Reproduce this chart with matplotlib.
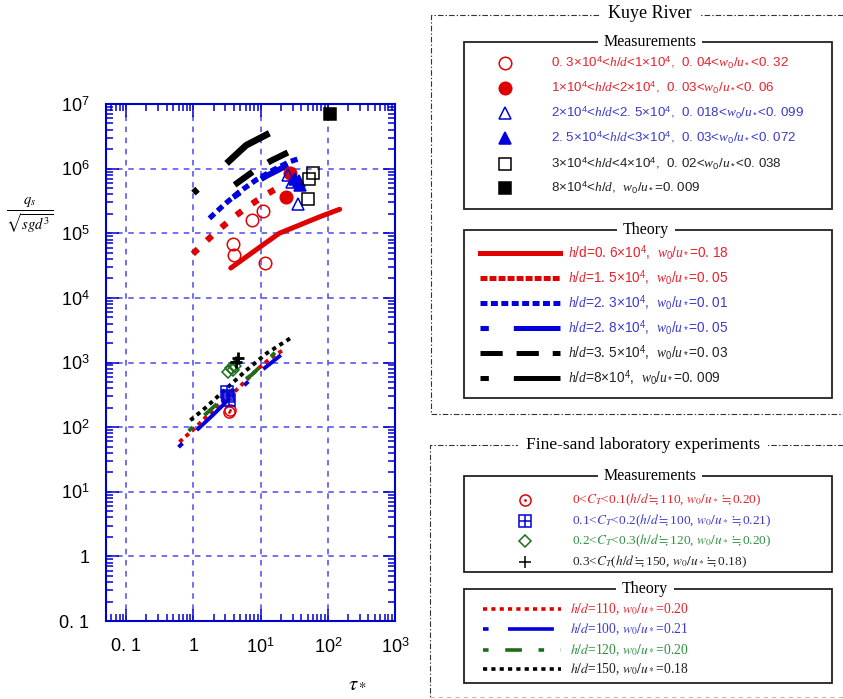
import numpy as np
import matplotlib
matplotlib.use('Agg')
import matplotlib.pyplot as plt
from matplotlib.ticker import LogLocator, FixedLocator, FixedFormatter, NullFormatter
from matplotlib.patches import Rectangle

plt.rcParams['font.family'] = ['Liberation Sans', 'DejaVu Sans']
plt.rcParams['mathtext.fontset'] = 'custom'
plt.rcParams['mathtext.rm'] = 'Liberation Sans'
plt.rcParams['mathtext.it'] = 'Liberation Serif:italic'
plt.rcParams['lines.scale_dashes'] = False

# ---- Kuye River measurements (tau*, qs/sqrt(sgd^3))
ko_x = [10.8, 7.5, 3.9, 4.0, 11.5]
ko_y = [2.2e5, 1.6e5, 6.7e4, 4.6e4, 3.5e4]
kfo_x = [27, 24]
kfo_y = [8.5e5, 3.6e5]
kt_x = [25.6, 29.7, 35.7]
kt_y = [8.0e5, 6.1e5, 2.8e5]
kft_x = [33, 37, 39]
kft_y = [7.0e5, 6.4e5, 5.5e5]
ks_x = [60, 53, 51]
ks_y = [8.5e5, 6.8e5, 3.4e5]
kfs_x = [107]
kfs_y = [7.0e6]

# ---- Kuye River theory curves
t06_x = [3.6, 6.1, 10.8, 19, 38, 76, 150]
t06_y = [2.9e4, 4.3e4, 6.6e4, 1.0e5, 1.34e5, 1.8e5, 2.35e5]
t15_x = [0.98, 1.94, 3.86, 6.85, 12.2, 22.8]
t15_y = [4.8e4, 9.4e4, 1.74e5, 2.7e5, 4.0e5, 5.8e5]
t23_x = [1.73, 2.9, 4.86, 8.6, 15.3, 27, 36]
t23_y = [1.7e5, 2.8e5, 4.4e5, 6.7e5, 9.5e5, 1.28e6, 1.41e6]
t28_x = [3.9, 6.85, 12.2, 25.6]
t28_y = [3.6e5, 5.4e5, 7.7e5, 1.14e6]
t35_x = [4.1, 7.7, 14.4, 27]
t35_y = [5.6e5, 9.0e5, 1.33e6, 1.83e6]
t80_x = [1.0, 3.1, 6.1, 14]
t80_y = [4.2e5, 1.2e6, 2.3e6, 3.6e6]

# ---- fine-sand lab measurements
lc_x = [3.4, 3.45]
lc_y = [170, 185]
lsq_x = [3.15, 3.25, 3.4]
lsq_y = [345, 300, 265]
ld_x = [3.25, 3.66, 4.1, 3.86]
ld_y = [718, 811, 880, 762]
lp_x = [4.58, 4.34]
lp_y = [1160, 1025]

# ---- fine-sand lab theory
l110_x = [0.62, 0.98, 1.38, 2.44, 4.34, 8.6, 11.5, 16.1, 21.5]
l110_y = [59, 90, 128, 233, 374, 755, 980, 1290, 1550]
l100_x = [0.60, 1.9, 3.5, 7.7, 20]
l100_y = [49, 150, 280, 590, 1300]
l120_x = [0.85, 1.38, 4.86, 7.3, 17, 24]
l120_y = [87, 145, 475, 640, 1470, 1750]
l150_x = [0.90, 1.38, 2.59, 6.1, 12.2, 30]
l150_y = [128, 183, 333, 755, 1380, 2500]

xticks = [0.1, 1, 10, 100, 1000]
xlabels = ['0. 1', '1', '$10^1$', '$10^2$', '$10^3$']
yticks = [0.1, 1, 10, 1e2, 1e3, 1e4, 1e5, 1e6, 1e7]
ylabels = ['0. 1', '1', '$10^1$', '$10^2$', '$10^3$', '$10^4$', '$10^5$', '$10^6$', '$10^7$']

RED = '#e00000'
BLUE = '#0000dd'
GREEN = '#1a6e1a'
TRED = '#e8202a'
TBLUE = '#3a3ad0'
TGREEN = '#2e9040'

# styles
kuye_meas = [
    ('o', 'none', RED, TRED, '0. 3×10$^4$<$h/d$<1×10$^4$,  0. 04<$w_0/u_*$<0. 32'),
    ('o', RED, RED, TRED, '1×10$^4$<$h/d$<2×10$^4$,  0. 03<$w_0/u_*$<0. 06'),
    ('^', 'none', BLUE, TBLUE, '2×10$^4$<$h/d$<2. 5×10$^4$,  0. 018<$w_0/u_*$<0. 099'),
    ('^', BLUE, BLUE, TBLUE, '2. 5×10$^4$<$h/d$<3×10$^4$,  0. 03<$w_0/u_*$<0. 072'),
    ('s', 'none', 'k', '#222222', '3×10$^4$<$h/d$<4×10$^4$,  0. 02<$w_0/u_*$<0. 038'),
    ('s', 'k', 'k', '#222222', '8×10$^4$<$h/d$,  $w_0/u_*$=0. 009'),
]
kuye_theo = [
    (RED, 3.6, None, (0, 0), TRED, '$h/$d=0. 6×10$^4$,  $w_0/u_*$=0. 18'),
    (RED, 4.5, (5, 9), (5, 1.5), TRED, '$h/d$=1. 5×10$^4$,  $w_0/u_*$=0. 05'),
    (BLUE, 3.8, (5, 3), (5, 2.5), TBLUE, '$h/d$=2. 3×10$^4$,  $w_0/u_*$=0. 01'),
    (BLUE, 4.2, (6, 18, 34, 18), (6, 18, 34, 18), TBLUE, '$h/d$=2. 8×10$^4$,  $w_0/u_*$=0. 05'),
    ('k', 4.5, (16, 13), (16, 10), '#222222', '$h/d$=3. 5×10$^4$,  $w_0/u_*$=0. 03'),
    ('k', 4.8, (4, 28, 38, 28), (6, 18, 34, 18), '#222222', '$h/d$=8×10$^4$,  $w_0/u_*$=0. 009'),
]
lab_meas = [
    (RED, TRED, r'0<$C_T$<0.1($h/d\fallingdotseq$110, $w_0/u_*\fallingdotseq$0.20)'),
    (BLUE, TBLUE, r'0.1<$C_T$<0.2($h/d\fallingdotseq$100, $w_0/u_*\fallingdotseq$0.21)'),
    (GREEN, TGREEN, r'0.2<$C_T$<0.3($h/d\fallingdotseq$120, $w_0/u_*\fallingdotseq$0.20)'),
    ('k', '#222222', r'0.3<$C_T$($h/d\fallingdotseq$150, $w_0/u_*\fallingdotseq$0.18)'),
]
lab_theo = [
    (RED, (3, 3), TRED, '$h/d$=110, $w_0/u_*$=0.20'),
    (BLUE, (4, 14, 33, 14), TBLUE, '$h/d$=100, $w_0/u_*$=0.21'),
    (GREEN, (4, 12, 12, 12), TGREEN, '$h/d$=120, $w_0/u_*$=0.20'),
    ('k', (3, 3), '#222222', '$h/d$=150, $w_0/u_*$=0.18'),
]

fig = plt.figure(figsize=(8.43, 6.99), dpi=100)
ax = fig.add_axes([106 / 843, 1 - 621 / 699, 289 / 843, 517 / 699])
ax.set_xscale('log')
ax.set_yscale('log')
ax.set_xlim(0.05, 1000)
ax.set_ylim(0.1, 1e7)

# theory curves (Kuye)
curves = [(t06_x, t06_y), (t15_x, t15_y), (t23_x, t23_y), (t28_x, t28_y), (t35_x, t35_y), (t80_x, t80_y)]
for (cx, cy), (col, lw, dsh, _, _, _) in zip(curves, kuye_theo):
    if dsh is None:
        ax.plot(cx, cy, color=col, lw=lw, solid_capstyle='round')
    else:
        ax.plot(cx, cy, color=col, lw=lw, dashes=dsh)

# theory curves (lab)
lab_curves = [(l110_x, l110_y), (l100_x, l100_y), (l120_x, l120_y), (l150_x, l150_y)]
for (cx, cy), (col, dsh, _, _) in zip(lab_curves, lab_theo):
    ax.plot(cx, cy, color=col, lw=2.8, dashes=dsh)

# measurements (Kuye)
kpts = [(ko_x, ko_y), (kfo_x, kfo_y), (kt_x, kt_y), (kft_x, kft_y), (ks_x, ks_y), (kfs_x, kfs_y)]
for (px, py), (m, fc, ec, _, _) in zip(kpts, kuye_meas):
    ax.plot(px, py, ls='none', marker=m, ms=9, mfc=fc, mec=ec, mew=1.1)

# measurements (lab)
ax.plot(lc_x, lc_y, ls='none', marker='o', ms=8, mfc='none', mec=RED, mew=1.1)
ax.plot(lc_x, lc_y, ls='none', marker='.', ms=2, color=RED)
ax.plot(lsq_x, lsq_y, ls='none', marker='s', ms=8, mfc='none', mec=BLUE, mew=1.1)
ax.plot(lsq_x, lsq_y, ls='none', marker='+', ms=8, mec=BLUE, mew=1.1)
ax.plot(ld_x, ld_y, ls='none', marker='D', ms=6, mfc='none', mec=GREEN, mew=1.1)
ax.plot(lp_x, lp_y, ls='none', marker='+', ms=9, mec='k', mew=2)

for spine in ax.spines.values():
    spine.set_color('#0000cc')
    spine.set_linewidth(1.5)
ax.xaxis.set_major_locator(FixedLocator(xticks))
ax.xaxis.set_major_formatter(FixedFormatter(xlabels))
ax.yaxis.set_major_locator(FixedLocator(yticks))
ax.yaxis.set_major_formatter(FixedFormatter(ylabels))
ax.xaxis.set_minor_locator(LogLocator(base=10, subs=np.arange(2, 10), numticks=100))
ax.yaxis.set_minor_locator(LogLocator(base=10, subs=np.arange(2, 10), numticks=100))
ax.xaxis.set_minor_formatter(NullFormatter())
ax.yaxis.set_minor_formatter(NullFormatter())
ax.tick_params(which='both', direction='in', top=True, right=True, color='#0000cc', labelsize=13, width=1.1)
ax.tick_params(which='major', length=9, pad=12)
ax.tick_params(which='minor', length=5)
ax.grid(True, which='major', color='#4a4af0', lw=1.1, dashes=(4, 4))

fig.text(30 / 843, 1 - 216 / 699, r'$\frac{q_s}{\sqrt{sgd^3}}$', fontsize=15,
         ha='center', va='center', math_fontfamily='stix')
fig.text(357 / 843, 1 - 683 / 699, r'$\tau_*$', fontsize=15, ha='center', va='center',
         math_fontfamily='stix')

# ---- legend panels (pixel coordinates of the figure)
ov = fig.add_axes([0, 0, 1, 1])
ov.set_xlim(0, 843)
ov.set_ylim(699, 0)
ov.axis('off')

frame_ls = (0, (4, 1.5, 1, 1.5))
ov.plot([843, 431, 431, 843], [15, 15, 414, 414], color='#333333', lw=0.8, ls=frame_ls)
ov.plot([843, 430, 430], [445, 445, 699], color='#333333', lw=0.8, ls=frame_ls)
ov.plot([430, 843], [697, 697], color='#bbbbbb', lw=0.8, ls=(0, (3, 3)))

serif = ['Liberation Serif', 'Noto Sans CJK JP', 'DejaVu Sans']


def boxed(x0, y0, x1, y1, title, tx):
    ov.add_patch(Rectangle((x0, y0), x1 - x0, y1 - y0, fill=False, ec='#222222', lw=1.3))
    ov.text(tx, y0, title, ha='center', va='center', fontsize=11.5, family=serif,
            bbox=dict(fc='white', ec='none', pad=4))


ov.text(650, 14, 'Kuye River', ha='center', va='center', fontsize=13, family=serif,
        bbox=dict(fc='white', ec='none', pad=6))
ov.text(643, 445, 'Fine-sand laboratory experiments', ha='center', va='center', fontsize=12.5,
        family=serif, bbox=dict(fc='white', ec='none', pad=6))

boxed(464, 42, 832, 209, 'Measurements', 650)
rows = [63, 88, 113, 138, 164, 188]
for yy, (m, fc, ec, tc, lab) in zip(rows, kuye_meas):
    ov.plot([505], [yy], marker=m, ms=9, mfc=fc, mec=ec, mew=1.1, ls='none')
    ov.text(551, yy, lab, color=tc, fontsize=9.6, va='center', ha='left')

boxed(464, 230, 832, 398, 'Theory', 646)
rows = [253, 278, 303, 328, 353, 378]
for yy, (col, lw, _, ldsh, tc, lab) in zip(rows, kuye_theo):
    if ldsh == (0, 0):
        ov.plot([480, 560], [yy, yy], color=col, lw=3.6)
    else:
        ov.plot([480, 560], [yy, yy], color=col, lw=3.6, dashes=ldsh)
    ov.text(568, yy, lab, color=tc, fontsize=9.8, va='center', ha='left')

boxed(464, 476, 832, 572, 'Measurements', 650)
rows = [500, 521, 541, 562]
ov.plot([525], [rows[0]], marker='o', ms=8, mfc='none', mec=RED, mew=1.1)
ov.plot([525], [rows[0]], marker='.', ms=2, color=RED)
ov.plot([525], [rows[1]], marker='s', ms=8, mfc='none', mec=BLUE, mew=1.1)
ov.plot([525], [rows[1]], marker='+', ms=8, mec=BLUE, mew=1.1)
ov.plot([525], [rows[2]], marker='D', ms=6, mfc='none', mec=GREEN, mew=1.1)
ov.plot([525], [rows[3]], marker='+', ms=9, mec='k', mew=1.1)
for yy, (_, tc, lab) in zip(rows, lab_meas):
    ov.text(572, yy, lab, color=tc, fontsize=9.6, va='center', ha='left', family=serif,
            math_fontfamily='stix')

boxed(464, 589, 832, 683, 'Theory', 645)
rows = [609, 629, 650, 669]
for yy, (col, dsh, tc, lab) in zip(rows, lab_theo):
    ov.plot([483, 561], [yy, yy], color=col, lw=2.6, dashes=dsh)
    ov.text(570, yy, lab, color=tc, fontsize=9.8, va='center', ha='left', family=serif,
            math_fontfamily='stix')

fig.savefig('out.png', dpi=100)
